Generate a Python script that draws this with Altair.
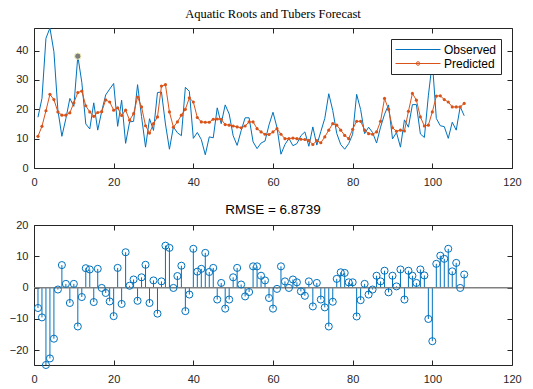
import altair as alt
import pandas as pd

# ---------------- data ----------------
t = list(range(1, 109))

observed = [17.3, 23.7, 44.2, 47.7, 39.6, 19.7, 10.8, 16.8, 23.7, 21.0,
            38.1, 29.2, 15.0, 13.3, 22.2, 12.9, 19.3, 24.9, 26.9, 28.8,
            14.2, 23.1, 8.4, 15.7, 15.9, 28.4, 17.5, 7.1, 16.8, 12.8,
            25.7, 25.9, 15.0, 6.4, 14.0, 12.0, 11.0, 27.5, 26.1, 10.1,
            12.1, 9.7, 4.5, 10.6, 10.3, 20.5, 15.1, 21.5, 18.4, 11.0,
            7.7, 12.7, 17.1, 17.1, 8.9, 6.6, 8.5, 9.2, 14.7, 19.0,
            13.8, 4.7, 8.0, 10.1, 7.6, 8.3, 11.0, 12.3, 7.4, 14.0,
            7.8, 12.4, 16.9, 25.3, 19.6, 11.8, 8.0, 6.4, 8.3, 11.5,
            25.1, 19.9, 11.7, 13.9, 12.1, 8.5, 13.9, 18.3, 21.5, 9.9,
            12.1, 7.1, 16.4, 13.9, 21.6, 21.6, 11.6, 10.4, 24.6, 36.2,
            16.9, 14.4, 14.1, 10.1, 15.6, 12.9, 20.9, 17.8]

predicted = [10.8, 14.2, 19.5, 25.1, 23.3, 19.1, 18.0, 18.0, 18.8, 22.2,
             25.7, 26.2, 21.2, 19.1, 17.6, 18.9, 19.2, 23.2, 22.5, 19.7,
             20.5, 17.9, 19.7, 16.3, 18.5, 24.2, 20.8, 14.4, 11.9, 15.1,
             17.4, 27.9, 28.4, 19.1, 13.9, 15.7, 18.0, 20.0, 23.9, 22.5,
             17.2, 15.7, 15.6, 15.6, 16.6, 16.7, 16.6, 14.8, 14.6, 14.3,
             14.0, 13.7, 14.3, 15.7, 15.7, 13.4, 12.3, 11.5, 11.4, 12.3,
             13.4, 11.5, 10.0, 10.0, 10.2, 10.0, 9.8, 9.7, 9.4, 8.0,
             9.3, 8.6, 10.6, 12.9, 15.1, 14.6, 12.9, 11.1, 10.0, 13.2,
             15.9, 15.9, 12.9, 11.7, 11.5, 12.3, 15.9, 23.7, 20.0, 13.7,
             12.5, 12.9, 12.6, 19.3, 25.4, 23.1, 17.4, 14.3, 14.6, 19.1,
             24.5, 24.6, 23.3, 22.5, 20.8, 20.8, 20.8, 22.0]

residual = [-6.5, -9.5, -24.7, -22.6, -16.3, -0.6, 7.2, 1.2, -4.9, 1.2,
            -12.4, -3.0, 6.2, 5.8, -4.6, 6.0, -0.1, -1.7, -4.4, -9.1,
            6.3, -5.2, 11.3, 0.6, 2.6, -4.2, 3.3, 7.3, -4.9, 2.3,
            -8.3, 2.0, 13.4, 12.7, -0.1, 3.7, 7.0, -7.5, -2.2, 12.4,
            5.1, 6.0, 11.1, 5.0, 6.3, -3.8, 1.5, -6.7, -3.8, 3.3,
            6.3, 1.0, -2.8, -1.4, 6.8, 6.8, 3.8, 2.3, -3.3, -6.7,
            -0.4, 6.8, 2.0, -0.1, 2.6, 1.7, -1.2, -2.6, 2.0, -6.0,
            1.5, -3.8, -6.3, -12.4, -4.5, 2.8, 4.9, 4.7, 1.7, 1.7,
            -9.2, -4.0, 1.2, -2.2, -0.6, 3.8, 2.0, 5.4, -1.5, 3.8,
            0.4, 5.8, -3.8, 5.4, 3.8, 1.5, 5.8, 3.9, -10.0, -17.1,
            7.6, 10.2, 9.2, 12.4, 5.2, 7.9, -0.1, 4.2]

highlight_t = [11]
highlight_value = [38.1]

series_names = ["Observed", "Predicted"]
x_ticks = [0, 20, 40, 60, 80, 100, 120]
top_y_ticks = [0, 10, 20, 30, 40]
bot_y_ticks = [-20, -10, 0, 10, 20]
x_domain = [0, 120]
top_y_domain = [0, 47.7]
bot_y_domain = [-24.7, 20]
baseline_value = [0]

top_title = "Aquatic Roots and Tubers Forecast"
bot_title = "RMSE = 6.8739"

# ---------------- styling ----------------
BLUE = "#0072BD"
ORANGE = "#D95319"
AXC = "#262626"
FONT = "Liberation Sans"
W, H = 478, 140

df_obs = pd.DataFrame({"t": t, "value": observed})
df_pred = pd.DataFrame({"t": t, "value": predicted})
# legend-only rows, placed outside the scale domain and clipped away
df_legend = pd.DataFrame({"series": series_names, "t": [-50, -50], "value": [-50, -50]})
df_res = pd.DataFrame({"t": t, "res": residual})
df_hl = pd.DataFrame({"t": highlight_t, "value": highlight_value})
df_base = pd.DataFrame({"z": baseline_value})

xs = alt.Scale(domain=x_domain, nice=False, zero=False)
ys_top = alt.Scale(domain=top_y_domain, nice=False, zero=False)
ys_bot = alt.Scale(domain=bot_y_domain, nice=False, zero=False)
color_scale = alt.Scale(domain=series_names, range=[BLUE, ORANGE])

path_obs = "M-1,0H6.5"
path_pred = ("M-1,0H6.5"
             "M3.05,0A0.3,0.3,0,1,1,2.45,0A0.3,0.3,0,1,1,3.05,0"
             "M2.87,0A0.12,0.12,0,1,1,2.63,0A0.12,0.12,0,1,1,2.87,0")
shape_scale = alt.Scale(domain=series_names, range=[path_obs, path_pred])


def main_axis(values, orient, pad):
    return alt.Axis(values=values, orient=orient, tickSize=5, offset=-5,
                    domain=False, grid=False, labelPadding=pad, title=None,
                    format="d", labelFlush=False, labelOverlap=False,
                    labelFont=FONT, labelFontSize=11, labelColor=AXC,
                    tickColor=AXC, tickWidth=1)


def side_axis(values, orient):
    return alt.Axis(values=values, orient=orient, tickSize=5, offset=-5,
                    domain=False, grid=False, labels=False, title=None,
                    tickColor=AXC, tickWidth=1)


legend = alt.Legend(orient="top-right", offset=11, title=None,
                    symbolSize=144, symbolStrokeWidth=1,
                    labelFont=FONT, labelFontSize=12, labelColor="black",
                    labelOffset=36, padding=4, rowPadding=1,
                    strokeColor=AXC, fillColor="white")

# ---------------- top panel ----------------
obs_line = alt.Chart(df_obs).mark_line(strokeWidth=1, color=BLUE).encode(
    x=alt.X("t:Q", scale=xs, axis=main_axis(x_ticks, "bottom", 8)),
    y=alt.Y("value:Q", scale=ys_top, axis=main_axis(top_y_ticks, "left", 6)),
)
pred_line = alt.Chart(df_pred).mark_line(strokeWidth=1, color=ORANGE).encode(
    x=alt.X("t:Q", axis=None),
    y=alt.Y("value:Q", axis=None),
)
markers = alt.Chart(df_pred).mark_circle(size=10, color=ORANGE, opacity=1).encode(
    x=alt.X("t:Q", axis=None),
    y=alt.Y("value:Q", axis=None),
)
hl = alt.Chart(df_hl).mark_circle(size=40, fill="#7f7f7f", stroke="#f2f2b8",
                                  strokeWidth=1, opacity=1).encode(
    x=alt.X("t:Q", axis=side_axis(x_ticks, "top")),
    y=alt.Y("value:Q", axis=side_axis(top_y_ticks, "right")),
)
leg = alt.Chart(df_legend).mark_point(filled=False, strokeWidth=1, opacity=1,
                                      clip=True).encode(
    x=alt.X("t:Q", axis=None),
    y=alt.Y("value:Q", axis=None),
    color=alt.Color("series:N", scale=color_scale, legend=legend),
    shape=alt.Shape("series:N", scale=shape_scale, legend=legend),
)
top = alt.layer(obs_line, pred_line, markers, hl, leg).resolve_axis(
    x="independent", y="independent").properties(
    width=W, height=H,
    title=alt.Title(top_title, font="Liberation Serif", fontSize=12.5,
                    fontWeight="normal", color="black", offset=6),
)

# ---------------- bottom panel ----------------
stems = alt.Chart(df_res).mark_rule(color=BLUE, strokeWidth=1).encode(
    x=alt.X("t:Q", scale=xs, axis=main_axis(x_ticks, "bottom", 8)),
    y=alt.Y("res:Q", scale=ys_bot, axis=main_axis(bot_y_ticks, "left", 6)),
    y2=alt.datum(0),
)
base = alt.Chart(df_base).mark_rule(color="#808080", strokeWidth=1.5).encode(
    y=alt.Y("z:Q", axis=None),
)
circles = alt.Chart(df_res).mark_point(size=50, filled=False, color=BLUE,
                                        strokeWidth=1, opacity=1).encode(
    x=alt.X("t:Q", axis=side_axis(x_ticks, "top")),
    y=alt.Y("res:Q", axis=side_axis(bot_y_ticks, "right")),
)
bottom = alt.layer(stems, base, circles).resolve_axis(
    x="independent", y="independent").properties(
    width=W, height=H,
    title=alt.Title(bot_title, font=FONT, fontSize=13.5, fontWeight="normal",
                    color="black", offset=3),
)

chart = alt.vconcat(top, bottom, spacing=14).properties(
    padding={"left": 8, "top": 7, "right": 5, "bottom": 5},
    background="white",
).configure(font=FONT).configure_view(stroke=AXC, strokeWidth=1)

chart.save("out.html", embed_options={"renderer": "svg", "actions": False})
